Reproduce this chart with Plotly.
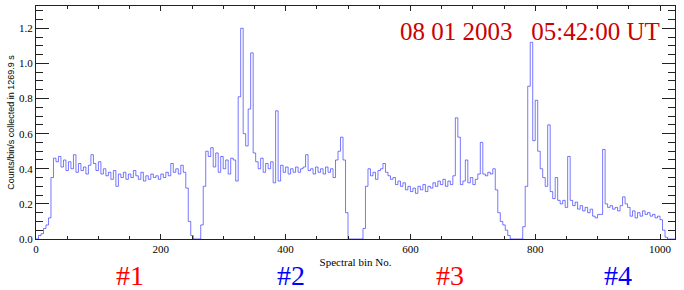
import numpy as np
import plotly.graph_objects as go

# Counts/bin/s, one value per group of 4 spectral bins (bins 0..1023)
counts_part1 = [
    0.00, 0.02, 0.03, 0.06, 0.08, 0.12, 0.35, 0.46,
    0.44, 0.47, 0.41, 0.45, 0.39, 0.44, 0.40, 0.48,
    0.38, 0.43, 0.39, 0.41, 0.37, 0.42, 0.48, 0.43,
    0.39, 0.44, 0.37, 0.40, 0.36, 0.38, 0.34, 0.39,
    0.30, 0.37, 0.35, 0.38, 0.34, 0.37, 0.35, 0.39,
    0.36, 0.34, 0.38, 0.33, 0.36, 0.34, 0.37, 0.35,
    0.36, 0.34, 0.37, 0.35, 0.38, 0.36, 0.43, 0.38,
    0.40, 0.37, 0.42, 0.38, 0.29, 0.10, 0.02, 0.00,
]
counts_part2 = [
    0.00, 0.00, 0.08, 0.30, 0.50, 0.47, 0.52, 0.41,
    0.49, 0.38, 0.47, 0.40, 0.45, 0.37, 0.46, 0.45,
    0.33, 0.81, 1.20, 0.60, 0.53, 0.74, 1.06, 0.49,
    0.44, 0.40, 0.46, 0.38, 0.43, 0.40, 0.44, 0.32,
    0.73, 0.33, 0.42, 0.38, 0.41, 0.37, 0.40, 0.38,
    0.41, 0.38, 0.40, 0.41, 0.48, 0.39, 0.40, 0.37,
    0.41, 0.38, 0.40, 0.37, 0.41, 0.38, 0.40, 0.35,
    0.45, 0.50, 0.58, 0.45, 0.15, 0.00, 0.00, 0.00,
]
counts_part3 = [
    0.00, 0.00, 0.00, 0.06, 0.30, 0.40, 0.36, 0.38,
    0.34, 0.39, 0.40, 0.43, 0.38, 0.36, 0.34, 0.35,
    0.31, 0.33, 0.30, 0.32, 0.28, 0.30, 0.27, 0.29,
    0.26, 0.30, 0.28, 0.31, 0.27, 0.30, 0.29, 0.32,
    0.30, 0.33, 0.31, 0.34, 0.30, 0.33, 0.31, 0.36,
    0.69, 0.58, 0.31, 0.33, 0.45, 0.32, 0.35, 0.31,
    0.34, 0.37, 0.55, 0.37, 0.36, 0.38, 0.37, 0.40,
    0.28, 0.15, 0.10, 0.08, 0.05, 0.02, 0.00, 0.00,
]
counts_part4 = [
    0.00, 0.00, 0.00, 0.07, 0.30, 0.87, 1.12, 0.56,
    0.79, 0.50, 0.40, 0.35, 0.30, 0.65, 0.27, 0.23,
    0.35, 0.22, 0.20, 0.22, 0.18, 0.47, 0.22, 0.19,
    0.21, 0.17, 0.19, 0.16, 0.18, 0.15, 0.17, 0.13,
    0.12, 0.14, 0.14, 0.51, 0.20, 0.18, 0.19, 0.17,
    0.18, 0.16, 0.19, 0.24, 0.20, 0.18, 0.13, 0.16,
    0.12, 0.15, 0.13, 0.16, 0.14, 0.15, 0.13, 0.14,
    0.12, 0.13, 0.11, 0.05, 0.01, 0.00, 0.00, 0.00,
]
bins_per_value = 4
n_bins = 1024

x_ticks = [0, 200, 400, 600, 800, 1000]
y_ticks = [0.0, 0.2, 0.4, 0.6, 0.8, 1.0, 1.2]

detector_labels = ["#1", "#2", "#3", "#4"]
detector_x = [151, 409, 663, 933]
detector_colors = ["#ff0000", "#0000ff", "#ff0000", "#0000ff"]

title_text = "08 01 2003   05:42:00 UT"
x_title = "Spectral bin No."
y_title = "Counts/bin/s collected in 1269.9 s"

counts = counts_part1 + counts_part2 + counts_part3 + counts_part4
x = list(np.arange(len(counts)) * bins_per_value) + [n_bins]
y = counts + [counts[-1]]

fig = go.Figure()
fig.add_trace(go.Scatter(
    x=x, y=y, mode="lines", line_shape="hv",
    line=dict(color="rgba(30,30,255,0.6)", width=1),
    hoverinfo="skip", showlegend=False,
))

axis_common = dict(
    showgrid=False, zeroline=False, showline=True, linecolor="#222",
    linewidth=1, mirror="allticks", ticks="inside", tickcolor="#222",
    tickwidth=1,
)
fig.update_xaxes(
    range=[0, n_bins], tickvals=x_ticks, ticklen=5,
    minor=dict(dtick=50, ticks="inside", ticklen=3, tickcolor="#222"),
    tickfont=dict(family="Liberation Serif", size=11, color="black"),
    title=dict(text=x_title, standoff=4,
               font=dict(family="Liberation Serif", size=11, color="black")),
    **axis_common,
)
fig.update_yaxes(
    range=[0, 1.327], tickvals=y_ticks, tickformat=".1f", ticklen=13,
    minor=dict(dtick=0.05, ticks="inside", ticklen=7, tickcolor="#222"),
    tickfont=dict(family="Liberation Serif", size=11, color="black"),
    title=dict(text=y_title, standoff=2,
               font=dict(family="Liberation Sans", size=9, color="black")),
    **axis_common,
)

annotations = []
for lab, xv, col in zip(detector_labels, detector_x, detector_colors):
    annotations.append(dict(
        x=xv, y=-0.155, xref="x", yref="paper", text=lab, showarrow=False,
        xanchor="center", yanchor="middle",
        font=dict(family="Liberation Serif", size=28, color=col),
    ))
annotations.append(dict(
    x=0.98, y=0.89, xref="paper", yref="paper", text=title_text,
    showarrow=False, xanchor="right", yanchor="middle",
    font=dict(family="Liberation Serif", size=25, color="#cc0000"),
))

fig.update_layout(
    width=684, height=290,
    margin=dict(l=36, r=9, t=6, b=51),
    paper_bgcolor="white", plot_bgcolor="white",
    annotations=annotations,
)

fig.write_html("out.html")
